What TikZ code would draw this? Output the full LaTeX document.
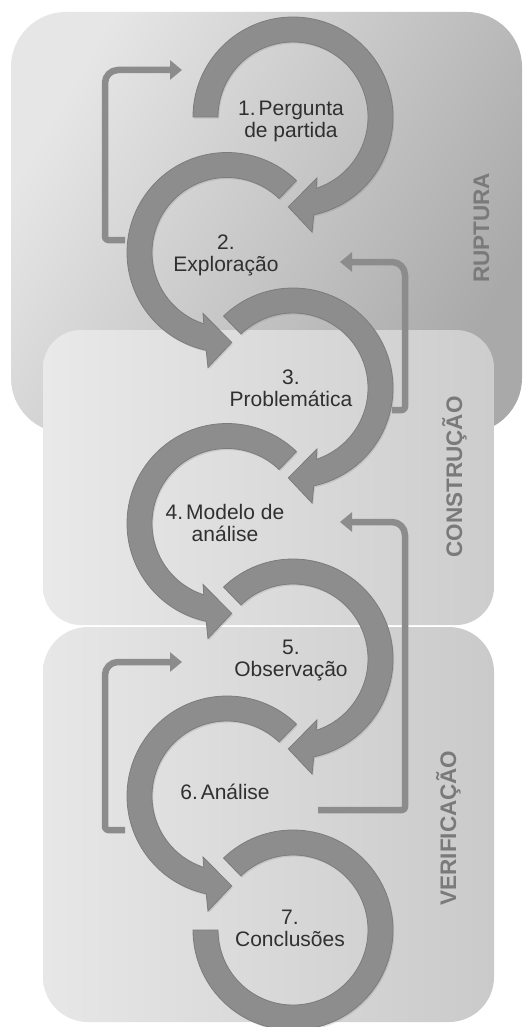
\documentclass[tikz,border=0pt]{standalone}
\usepackage{fontspec}
\setmainfont{Liberation Sans}
\usetikzlibrary{arrows.meta,shadows}

\definecolor{arcgray}{HTML}{8D8D8D}
\definecolor{arcedge}{HTML}{7C7C7C}
\definecolor{loopgray}{HTML}{8C8C8C}
\definecolor{textgray}{HTML}{303030}
\definecolor{phasegray}{HTML}{7A7A7A}
\definecolor{rupL}{HTML}{E6E6E6}
\definecolor{rupM}{HTML}{D8D8D8}
\definecolor{rupR}{HTML}{A9A9A9}
\definecolor{conL}{HTML}{E9E9E9}
\definecolor{conR}{HTML}{CDCDCD}
\definecolor{verL}{HTML}{E7E7E7}
\definecolor{verR}{HTML}{CACACA}

% one circular stage arrow: centre, mirror factor, start angle
\newcommand{\stagearc}[3]{%
  \begin{scope}[shift={#1}, xscale=#2]
    \fill[arcshape] (#3:100) arc[start angle=#3, end angle=-78, radius=100]
      -- (-80.6:116.6) -- (-93:90) -- (-68.5:65.5) -- (-72:75)
      arc[start angle=-72, end angle=#3, radius=75] -- cycle;
  \end{scope}}
% narrow gap after a stage number
\newcommand{\nsp}{\hspace{0.14em}}

\begin{document}
\begin{tikzpicture}[x=1pt, y=1pt,
  stage/.style={align=center, font=\fontsize{21}{22}\selectfont, text=textgray, inner sep=0pt},
  phase/.style={rotate=90, anchor=base, inner sep=0pt, text=phasegray,
    font=\bfseries\fontsize{22.5}{24}\selectfont},
  arcshape/.style={fill=arcgray, draw=arcedge, line width=0.8pt,
    drop shadow={opacity=0.22, shadow xshift=1.2pt, shadow yshift=-1.6pt}},
  loop/.style={draw=loopgray, line width=6.5pt, line join=round,
    -{Triangle[width=19pt,length=12pt]}}]

\useasboundingbox (0,0) rectangle (528,-1027);
\fill[white] (0,0) rectangle (528,-1027);

% phase panels
\shade[left color=rupL, middle color=rupM, right color=rupR, shading angle=60,
  rounded corners=55pt] (11,-12) rectangle (522,-433);
\shade[left color=conL, right color=conR, rounded corners=38pt]
  (43,-330) rectangle (494,-625);
\shade[left color=verL, right color=verR, rounded corners=45pt]
  (43,-627) rectangle (494,-1022);

% feedback connectors
\coordinate (a0) at (125,-240); \coordinate (a1) at (105,-240);
\coordinate (a2) at (105,-70);  \coordinate (a3) at (182,-70);
\coordinate (b0) at (392,-410); \coordinate (b1) at (405,-410);
\coordinate (b2) at (405,-262); \coordinate (b3) at (340,-262);
\coordinate (c0) at (318,-810); \coordinate (c1) at (405,-810);
\coordinate (c2) at (405,-522); \coordinate (c3) at (340,-522);
\coordinate (d0) at (125,-830); \coordinate (d1) at (105,-830);
\coordinate (d2) at (105,-662); \coordinate (d3) at (182,-662);

\draw[loop] (a0) [rounded corners=3pt] -- (a1) [rounded corners=13pt] -- (a2) -- (a3);
\draw[loop] (b0) [rounded corners=3pt] -- (b1) [rounded corners=13pt] -- (b2) -- (b3);
\draw[loop] (c0) [rounded corners=3pt] -- (c1) [rounded corners=13pt] -- (c2) -- (c3);
\draw[loop] (d0) [rounded corners=3pt] -- (d1) [rounded corners=13pt] -- (d2) -- (d3);

% circular stage arrows
\stagearc{(293,-117)}{1}{180}
\stagearc{(227,-252.5)}{-1}{134}
\stagearc{(293,-388)}{1}{134}
\stagearc{(227,-523.5)}{-1}{134}
\stagearc{(293,-659)}{1}{134}
\stagearc{(227,-796)}{-1}{134}
\begin{scope}[shift={(293,-930)}]
  \fill[arcshape] (134:100) arc[start angle=134, end angle=-180, radius=100]
    -- (180:75) arc[start angle=-180, end angle=134, radius=75] -- cycle;
\end{scope}

% stage labels
\node[stage] (s1) at (291,-121.6) {1.\nsp Pergunta\\de partida};
\node[stage] (s2) at (226,-255.5) {2.\\Exploração};
\node[stage] (s3) at (291,-388.7) {3.\\Problemática};
\node[stage] (s4) at (225,-523.2) {4.\nsp Modelo de\\análise};
\node[stage] (s5) at (291,-660.8) {5.\\Observação};
\node[stage] (s6) at (225,-792.2) {6.\nsp Análise};
\node[stage] (s7) at (290,-928.3) {7.\\Conclusões};

% phase names
\node[phase] (p1) at (489,-228) {RUPTURA};
\node[phase] (p2) at (462,-477) {CONSTRUÇÃO};
\node[phase] (p3) at (456,-828) {VERIFICAÇÃO};
\end{tikzpicture}
\end{document}
